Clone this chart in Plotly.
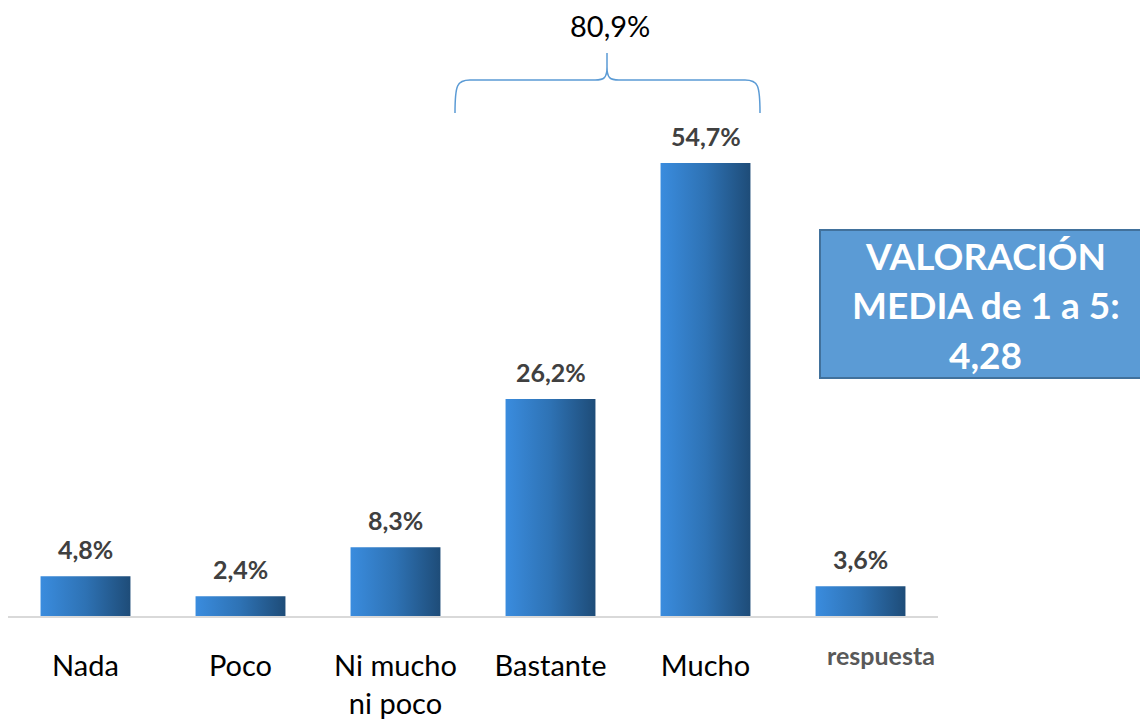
import plotly.graph_objects as go

# data
categories = ["Nada", "Poco", "Ni mucho<br>ni poco", "Bastante", "Mucho", "respuesta"]
values = [4.8, 2.4, 8.3, 26.2, 54.7, 3.6]
value_labels = ["4,8%", "2,4%", "8,3%", "26,2%", "54,7%", "3,6%"]
bracket_label = "80,9%"
box_lines = ["VALORACIÓN", "MEDIA de 1 a 5:", "4,28"]

# the page body has an 8px margin, the figure starts at (8, 8) on the page
OFF = 8
W, H = 1148 - OFF, 719 - OFF
ML, MT = 0, 0
PW, PH = 930, 608
MR, MB = W - ML - PW, H - MT - PH
BAR_W = 0.58
FONT = "Lato"


def px(x):
    # page pixel -> paper x
    return (x - OFF - ML) / PW


def py(y):
    # page pixel -> paper y
    return (MT + PH - (y - OFF)) / PH


fig = go.Figure()

# gradient bars (one filled polygon per bar so each gets its own gradient)
for i, v in enumerate(values):
    x0, x1 = i - BAR_W / 2, i + BAR_W / 2
    fig.add_trace(go.Scatter(
        x=[x0, x1, x1, x0, x0], y=[0, 0, v, v, 0],
        mode="lines", fill="toself", line=dict(width=0),
        fillgradient=dict(type="horizontal", start=x0, stop=x1,
                          colorscale=[[0, "#3A8CDE"], [0.5, "#2E72B4"], [1, "#1E4C78"]]),
        hoverinfo="skip", showlegend=False,
    ))
    fig.add_annotation(x=i, y=v, xref="x", yref="y", text="<b>%s</b>" % value_labels[i],
                       showarrow=False, xanchor="center", yanchor="bottom", yshift=10,
                       font=dict(family=FONT, size=25, color="#404040"))

# last category label (grey, bold, shifted right)
fig.add_annotation(x=px(881), y=py(655), xref="paper", yref="paper",
                   text="<b>%s</b>" % categories[5], showarrow=False,
                   xanchor="center", yanchor="middle",
                   font=dict(family=FONT, size=25, color="#595959"))

# curly bracket over Bastante + Mucho
pts = "M {a},{b} C {a},{c} {a2},{d} {a3},{d} L {m1},{d} C {m2},{d} {m},{d2} {m},{e} L {m},{f} " \
      "M {m},{e} C {m},{d2} {m3},{d} {m4},{d} L {r3},{d} C {r2},{d} {r},{c} {r},{b}"
path = pts.format(
    a=px(455), a2=px(457), a3=px(470), r=px(760), r2=px(758), r3=px(745),
    m=px(607), m1=px(595), m2=px(604), m3=px(610), m4=px(619),
    b=py(113), c=py(85), d=py(80), d2=py(78), e=py(67), f=py(53),
)
fig.add_shape(type="path", path=path, xref="paper", yref="paper",
              line=dict(color="#5B9BD5", width=1.5))
fig.add_annotation(x=px(610), y=py(25), xref="paper", yref="paper", text=bracket_label,
                   showarrow=False, xanchor="center", yanchor="middle",
                   font=dict(family=FONT, size=29, color="#000000"))

# mean score box
fig.add_shape(type="rect", xref="paper", yref="paper",
              x0=px(820), x1=px(1150), y0=py(378), y1=py(230),
              fillcolor="#5B9BD5", line=dict(color="#41719C", width=2))
for line, yc in zip(box_lines, [255, 304, 354]):
    fig.add_annotation(x=px(986), y=py(yc), xref="paper", yref="paper",
                       text="<b>%s</b>" % line, showarrow=False,
                       xanchor="center", yanchor="middle",
                       font=dict(family=FONT, size=37, color="#FFFFFF"))

fig.update_layout(
    width=W, height=H,
    margin=dict(l=ML, r=MR, t=MT, b=MB, autoexpand=False),
    plot_bgcolor="white", paper_bgcolor="white",
    font=dict(family=FONT),
    showlegend=False,
)
fig.update_xaxes(
    range=[-0.5, 5.5], tickvals=list(range(5)), ticktext=categories[:5],
    showgrid=False, zeroline=False, showline=True, linecolor="#D9D9D9", linewidth=2,
    ticks="", ticklabelstandoff=23, automargin=False,
    tickfont=dict(family=FONT, size=29, color="#000000"),
)
fig.update_yaxes(range=[0, PH / 8.28], visible=False, showgrid=False, zeroline=False,
                 automargin=False)

fig.write_html("out.html")
